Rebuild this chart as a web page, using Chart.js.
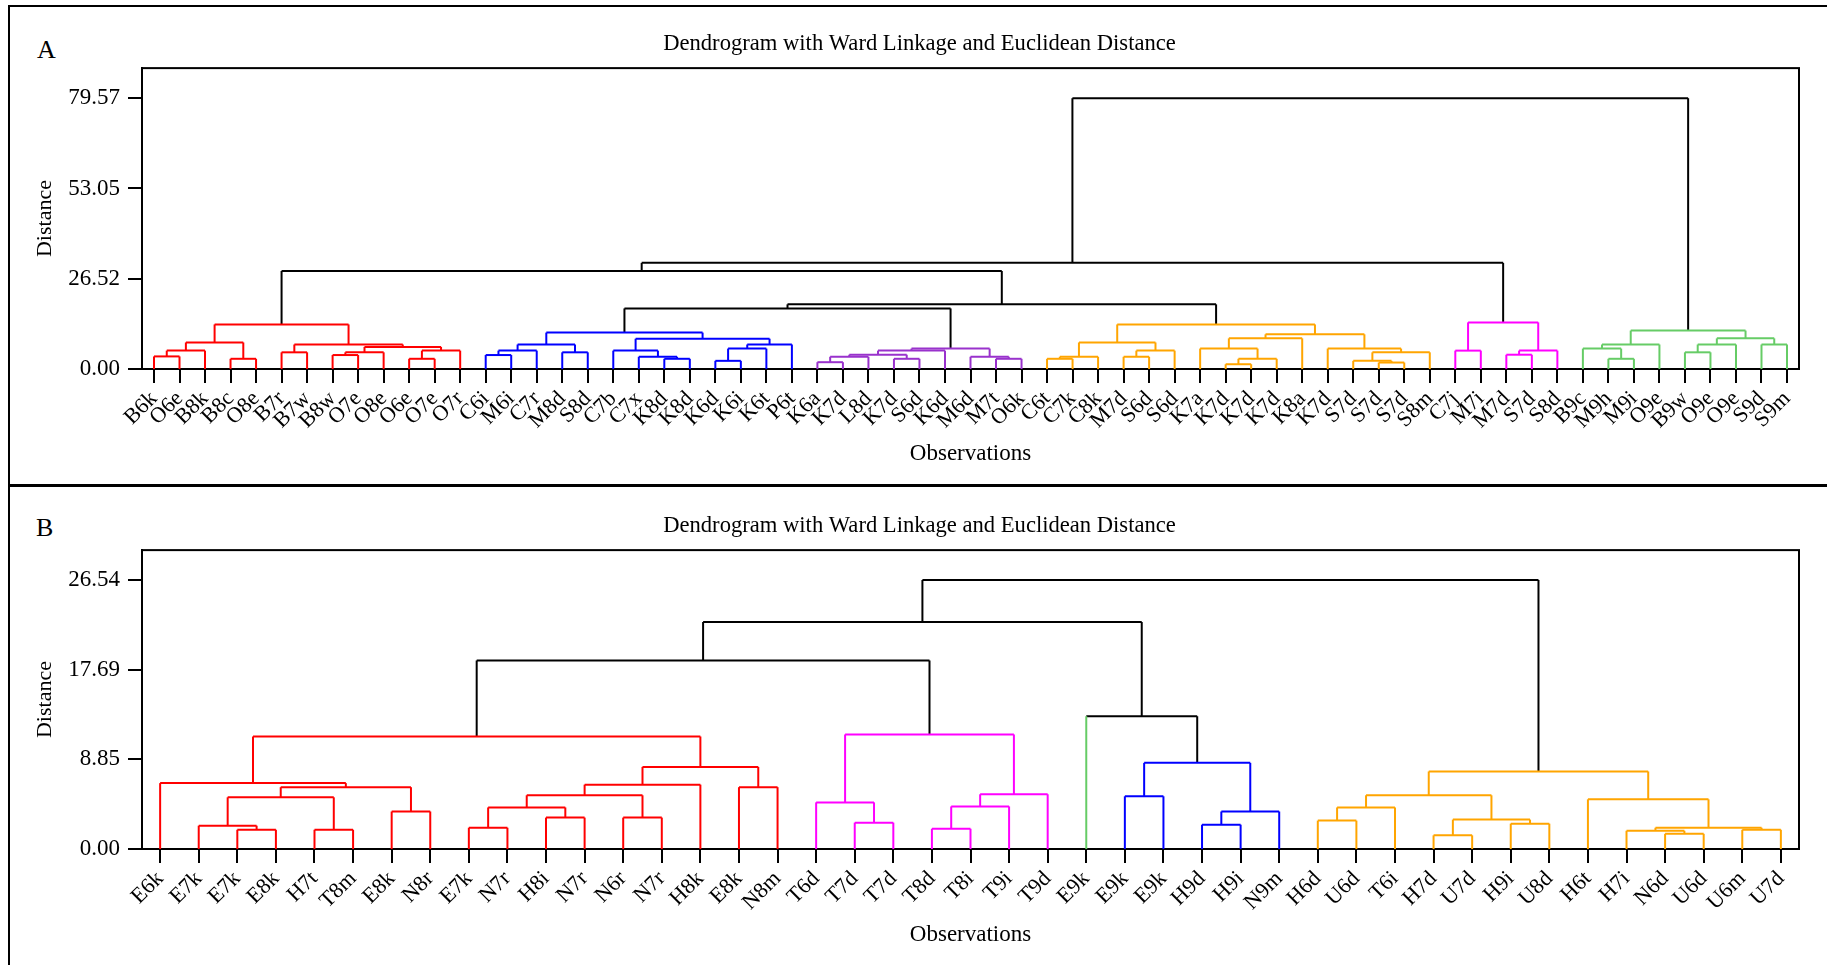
<!DOCTYPE html>
<html>
<head>
<meta charset="utf-8">
<script src="https://cdn.jsdelivr.net/npm/chart.js@4.4.1/dist/chart.umd.min.js"></script>
<style>
  body { margin: 0; background: #fff; width: 1827px; height: 965px; position: relative; overflow: hidden; font-family: "Liberation Serif", "Times New Roman", serif; }
  .line { position: absolute; background: #000; }
  .letter { position: absolute; font-size: 26px; line-height: 26px; color: #000; }
  .wrap { position: absolute; left: 0; width: 1827px; }
</style>
</head>
<body>
<div class="line" style="left:8px;top:5px;width:2px;height:960px"></div>
<div class="line" style="left:8px;top:5px;width:1819px;height:2px"></div>
<div class="line" style="left:8px;top:484px;width:1819px;height:3px"></div>
<div class="letter" style="left:37px;top:37px">A</div>
<div class="letter" style="left:36px;top:515px">B</div>
<div class="wrap" style="top:0;height:485px"><canvas id="chartA" width="1827" height="485"></canvas></div>
<div class="wrap" style="top:488px;height:477px"><canvas id="chartB" width="1827" height="477"></canvas></div>
<script>
// ---- panel A data ----
var leafLabelsA = ['B6k','O6e','B8k','B8c','O8e','B7r','B7w','B8w','O7e','O8e','O6e','O7e','O7r',
  'C6i','M6i','C7r','M8d','S8d','C7b','C7x','K8d','K8d','K6d','K6i','K6t','P6t',
  'K6a','K7d','L8d','K7d','S6d','K6d','M6d','M7t','O6k',
  'C6t','C7k','C8k','M7d','S6d','S6d','K7a','K7d','K7d','K7d','K8a','K7d','S7d','S7d','S7d','S8m',
  'C7j','M7i','M7d','S7d','S8d',
  'B9c','M9h','M9i','O9e','B9w','O9e','O9e','S9d','S9m'];
var clusterSizesA = [13, 13, 9, 16, 5, 9];
var clusterColorsA = ['#ff0000', '#0000ff', '#9932cc', '#ffa500', '#ff00ff', '#66cc66'];
// each merge: [first leaf, last leaf of left branch, last leaf, distance]
var mergesA = [
  [0,0,1,3.7], [0,1,2,5.4], [3,3,4,3.0], [0,2,4,7.8], [5,5,6,4.9], [7,7,8,4.1], [7,8,9,4.9],
  [10,10,11,3.0], [10,11,12,5.4], [7,9,12,6.5], [5,6,12,7.2], [0,4,12,13.1],
  [13,13,14,4.1], [13,14,15,5.4], [16,16,17,4.9], [13,15,17,7.2], [20,20,21,3.0], [19,19,21,3.6],
  [18,18,21,5.4], [22,22,23,2.4], [22,23,24,6.0], [22,24,25,7.2], [18,21,25,8.9], [13,17,25,10.7],
  [26,26,27,2.0], [26,27,28,3.6], [29,29,30,3.0], [26,28,30,4.2], [26,30,31,5.4], [33,33,34,3.0],
  [32,32,34,3.6], [26,31,34,6.0],
  [35,35,36,3.0], [35,36,37,3.6], [38,38,39,3.6], [38,39,40,5.4], [35,37,40,7.8], [42,42,43,1.4],
  [42,43,44,3.0], [41,41,44,6.0], [41,44,45,9.0], [48,48,49,1.9], [47,47,49,2.4], [47,49,50,4.9],
  [46,46,50,6.0], [41,45,50,10.2], [35,40,50,13.1],
  [51,51,52,5.4], [53,53,54,4.2], [53,54,55,5.4], [51,52,55,13.7],
  [57,57,58,3.0], [56,56,58,6.0], [56,58,59,7.2], [60,60,61,4.9], [60,61,62,7.2], [63,63,64,7.2],
  [60,62,64,9.0], [56,59,64,11.3],
  [13,25,34,17.8], [13,34,50,19.0], [0,12,50,28.8], [0,50,55,31.2], [0,55,64,79.57]
];
var distanceTicksA = [0, 26.52, 53.05, 79.57];

// ---- panel B data ----
var leafLabelsB = ['E6k','E7k','E7k','E8k','H7t','T8m','E8k','N8r','E7k','N7r','H8i','N7r','N6r','N7r','H8k','E8k','N8m',
  'T6d','T7d','T7d','T8d','T8i','T9i','T9d',
  'E9k',
  'E9k','E9k','H9d','H9i','N9m',
  'H6d','U6d','T6i','H7d','U7d','H9i','U8d','H6t','H7i','N6d','U6d','U6m','U7d'];
var clusterSizesB = [17, 7, 1, 5, 13];
var clusterColorsB = ['#ff0000', '#ff00ff', '#66cc66', '#0000ff', '#ffa500'];
var mergesB = [
  [2,2,3,1.9], [1,1,3,2.3], [4,4,5,1.9], [1,3,5,5.1], [6,6,7,3.7], [1,5,7,6.1], [0,0,7,6.5],
  [8,8,9,2.1], [10,10,11,3.1], [8,9,11,4.1], [12,12,13,3.1], [8,11,13,5.3], [8,13,14,6.35],
  [15,15,16,6.1], [8,14,16,8.1], [0,7,16,11.1],
  [18,18,19,2.6], [17,17,19,4.6], [20,20,21,2.0], [20,21,22,4.2], [20,22,23,5.4], [17,19,23,11.3],
  [25,25,26,5.2], [27,27,28,2.4], [27,28,29,3.7], [25,26,29,8.5], [24,24,29,13.1],
  [30,30,31,2.8], [30,31,32,4.1], [33,33,34,1.35], [35,35,36,2.5], [33,34,36,2.9], [30,32,36,5.3],
  [39,39,40,1.5], [38,38,40,1.8], [41,41,42,1.9], [38,40,42,2.1], [37,37,42,4.9], [30,36,42,7.65],
  [0,16,23,18.6], [0,23,29,22.4], [0,29,42,26.54]
];
var distanceTicksB = [0, 8.85, 17.69, 26.54];

Chart.defaults.font.family = '"Liberation Serif", "Times New Roman", serif';
Chart.defaults.color = '#000';

// turn the merge list into line datasets (legs + bar of every link)
function buildDatasets(labels, sizes, colors, merges) {
  var leafColor = [];
  sizes.forEach(function (n, k) { for (var i = 0; i < n; i++) leafColor.push(colors[k]); });
  var nodes = {};
  labels.forEach(function (_, i) { nodes[i + '-' + i] = { x: i, h: 0, leaf: true }; });
  var sets = [];
  function add(pts, color) {
    sets.push({ data: pts, borderColor: color, borderWidth: 2, pointRadius: 0, showLine: true,
      tension: 0, clip: false, borderJoinStyle: 'miter' });
  }
  merges.forEach(function (m) {
    var a = m[0], s = m[1], b = m[2], h = m[3];
    var L = nodes[a + '-' + s], R = nodes[(s + 1) + '-' + b];
    var inCluster = leafColor[a] === leafColor[b];
    var col = inCluster ? leafColor[a] : '#000';
    var lc = inCluster ? col : (L.leaf ? leafColor[a] : '#000');
    var rc = inCluster ? col : (R.leaf ? leafColor[b] : '#000');
    add([{ x: L.x, y: L.h }, { x: L.x, y: h }], lc);
    add([{ x: R.x, y: R.h }, { x: R.x, y: h }], rc);
    add([{ x: L.x, y: h }, { x: R.x, y: h }], col);
    nodes[a + '-' + b] = { x: (L.x + R.x) / 2, h: h, leaf: false };
  });
  return sets;
}

var framePlugin = {
  id: 'frame',
  beforeDatasetsDraw: function (chart) {
    var c = chart.ctx, a = chart.chartArea;
    c.save();
    c.strokeStyle = '#000';
    c.lineWidth = 2;
    c.strokeRect(a.left, a.top, a.right - a.left, a.bottom - a.top);
    c.restore();
  }
};

function makeChart(id, labels, sizes, colors, merges, yTicks, pad) {
  var top = merges[merges.length - 1][3] / 0.9;
  return new Chart(document.getElementById(id).getContext('2d'), {
    type: 'scatter',
    data: { datasets: buildDatasets(labels, sizes, colors, merges) },
    options: {
      responsive: false,
      animation: false,
      layout: { padding: { left: 40, right: 28, top: 0, bottom: pad.bottom } },
      plugins: {
        legend: { display: false },
        tooltip: { enabled: false },
        title: {
          display: true,
          text: 'Dendrogram with Ward Linkage and Euclidean Distance',
          color: '#000',
          font: { size: 22.6, weight: 'normal' },
          padding: { top: pad.titleTop, bottom: pad.titleBottom }
        }
      },
      scales: {
        x: {
          type: 'linear',
          min: -0.47,
          max: labels.length - 0.53,
          afterBuildTicks: function (s) { s.ticks = labels.map(function (_, i) { return { value: i }; }); },
          afterFit: function (s) { s.height = pad.xHeight; },
          ticks: {
            callback: function (v) { return labels[v]; },
            minRotation: 45, maxRotation: 45, autoSkip: false,
            color: '#000', font: { size: 22 }, padding: 3
          },
          grid: { drawOnChartArea: false, drawTicks: true, tickLength: 14, color: '#000', lineWidth: 2 },
          border: { display: true, color: '#000', width: 2 },
          title: { display: true, text: 'Observations', color: '#000', font: { size: 23 }, padding: { top: 0, bottom: 4 } }
        },
        y: {
          min: 0,
          max: top,
          afterBuildTicks: function (s) { s.ticks = yTicks.map(function (v) { return { value: v }; }); },
          afterFit: function (s) { s.width = 102; },
          ticks: {
            callback: function (v) { return v.toFixed(2); },
            color: '#000', font: { size: 23 }, padding: 8
          },
          grid: { drawOnChartArea: false, drawTicks: true, tickLength: 14, color: '#000', lineWidth: 2 },
          border: { display: true, color: '#000', width: 2 },
          title: { display: true, text: 'Distance', color: '#000', font: { size: 22 }, padding: { top: -8, bottom: 0 } }
        }
      }
    },
    plugins: [framePlugin]
  });
}

makeChart('chartA', leafLabelsA, clusterSizesA, clusterColorsA, mergesA, distanceTicksA,
  { titleTop: 31, titleBottom: 10, xHeight: 103, bottom: 13 });
makeChart('chartB', leafLabelsB, clusterSizesB, clusterColorsB, mergesB, distanceTicksB,
  { titleTop: 24.5, titleBottom: 10.5, xHeight: 104, bottom: 12 });
</script>
</body>
</html>
